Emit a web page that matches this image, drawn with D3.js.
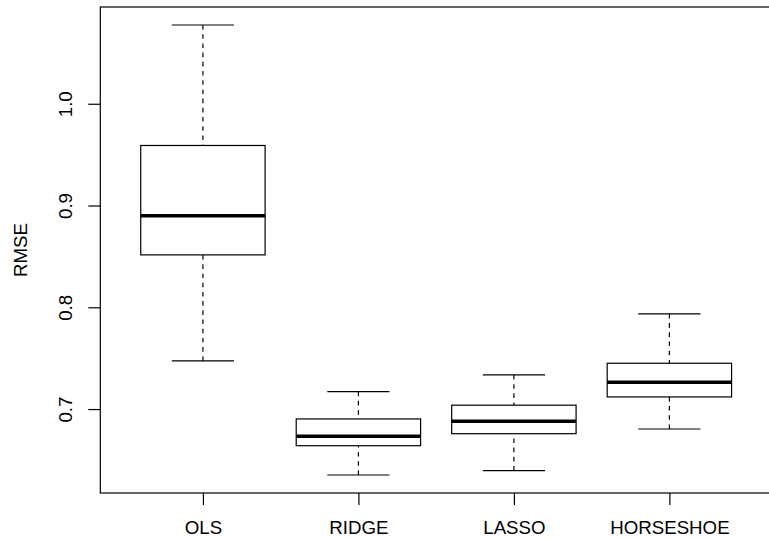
<!DOCTYPE html>
<html>
<head>
<meta charset="utf-8">
<script src="https://cdn.jsdelivr.net/npm/d3@7"></script>
<style>
  html, body { margin: 0; padding: 0; background: #fff; }
  svg { display: block; }
  text { font-family: "Liberation Sans", Arial, sans-serif; fill: #000; }
</style>
</head>
<body>
<svg id="chart" width="769" height="538"></svg>
<script>
// RMSE distribution per method: five-number summaries
const categories = ["OLS", "RIDGE", "LASSO", "HORSESHOE"];
const whiskerLow  = [0.7473, 0.6352, 0.6395, 0.6804];
const quartile1   = [0.8515, 0.6640, 0.6758, 0.7119];
const medians     = [0.8900, 0.6733, 0.6880, 0.7264];
const quartile3   = [0.9590, 0.6903, 0.7038, 0.7450];
const whiskerHigh = [1.0774, 0.7171, 0.7335, 0.7935];
const yTicks = [0.7, 0.8, 0.9, 1.0];
const yLabel = "RMSE";

(function () {
  const rows = categories.map((c, i) => ({
    cat: c, lo: whiskerLow[i], q1: quartile1[i], med: medians[i],
    q3: quartile3[i], hi: whiskerHigh[i]
  }));

  const svg = d3.select("#chart");
  const plotLeft = 100.3, plotRight = 772, plotTop = 7, plotBottom = 493;
  const fontPx = 18.7;

  // x: category positions, padded like a base-R boxplot (0.5..n+0.5 plus 4%)
  const x = d3.scalePoint().domain(categories).range([plotLeft, plotRight]).padding(0.66);
  const step = x.step();

  // y: data range extended by 4% on each side
  const lo = d3.min(whiskerLow), hi = d3.max(whiskerHigh);
  const pad = (hi - lo) * 0.04;
  const y = d3.scaleLinear().domain([lo - pad, hi + pad]).range([plotBottom, plotTop]);

  const lw = 1.2;

  const g = svg.append("g").attr("stroke", "#000").attr("fill", "none");
  const box = g.selectAll("g.box").data(rows).join("g").attr("class", "box");

  // whiskers (dashed), drawn from the whisker end toward the box
  box.append("line")
    .attr("x1", d => x(d.cat)).attr("x2", d => x(d.cat))
    .attr("y1", d => y(d.lo)).attr("y2", d => y(d.q1))
    .attr("stroke-width", lw).attr("stroke-dasharray", "4.6,4.6");
  box.append("line")
    .attr("x1", d => x(d.cat)).attr("x2", d => x(d.cat))
    .attr("y1", d => y(d.hi)).attr("y2", d => y(d.q3))
    .attr("stroke-width", lw).attr("stroke-dasharray", "4.6,4.6");

  // whisker caps
  ["lo", "hi"].forEach(k => {
    box.append("line")
      .attr("x1", d => x(d.cat) - step * 0.2).attr("x2", d => x(d.cat) + step * 0.2)
      .attr("y1", d => y(d[k])).attr("y2", d => y(d[k]))
      .attr("stroke-width", lw);
  });

  // interquartile box
  box.append("rect")
    .attr("x", d => x(d.cat) - step * 0.4)
    .attr("width", step * 0.8)
    .attr("y", d => y(d.q3))
    .attr("height", d => y(d.q1) - y(d.q3))
    .attr("fill", "#fff")
    .attr("stroke-width", lw);

  // median
  box.append("line")
    .attr("x1", d => x(d.cat) - step * 0.4).attr("x2", d => x(d.cat) + step * 0.4)
    .attr("y1", d => y(d.med)).attr("y2", d => y(d.med))
    .attr("stroke-width", 3.6);

  // y axis with rotated tick labels
  const yAxis = svg.append("g")
    .attr("transform", `translate(${plotLeft},0)`)
    .call(d3.axisLeft(y).tickValues(yTicks).tickSize(12).tickSizeOuter(0).tickFormat(d3.format(".1f")));
  yAxis.select(".domain").remove();
  yAxis.selectAll(".tick line").attr("stroke", "#000").attr("stroke-width", lw);
  yAxis.selectAll(".tick text")
    .attr("x", 0).attr("y", 0).attr("dy", 0)
    .attr("text-anchor", "middle")
    .attr("transform", "translate(-28.3,0) rotate(-90)")
    .style("font-size", fontPx + "px")
    .style("font-family", "'Liberation Sans', Arial, sans-serif");

  // x axis
  const xAxis = svg.append("g")
    .attr("transform", `translate(0,${plotBottom})`)
    .call(d3.axisBottom(x).tickSize(12).tickSizeOuter(0));
  xAxis.select(".domain").remove();
  xAxis.selectAll(".tick line").attr("stroke", "#000").attr("stroke-width", lw);
  xAxis.selectAll(".tick text")
    .attr("y", 41.3).attr("dy", 0)
    .style("font-size", fontPx + "px")
    .style("font-family", "'Liberation Sans', Arial, sans-serif");

  // plot frame
  svg.append("rect")
    .attr("x", plotLeft).attr("y", plotTop)
    .attr("width", plotRight - plotLeft).attr("height", plotBottom - plotTop)
    .attr("fill", "none").attr("stroke", "#000").attr("stroke-width", lw);

  // y axis title
  svg.append("text")
    .attr("transform", `translate(27.3,${(plotTop + plotBottom) / 2}) rotate(-90)`)
    .attr("text-anchor", "middle")
    .style("font-size", fontPx + "px")
    .text(yLabel);
})();
</script>
</body>
</html>
